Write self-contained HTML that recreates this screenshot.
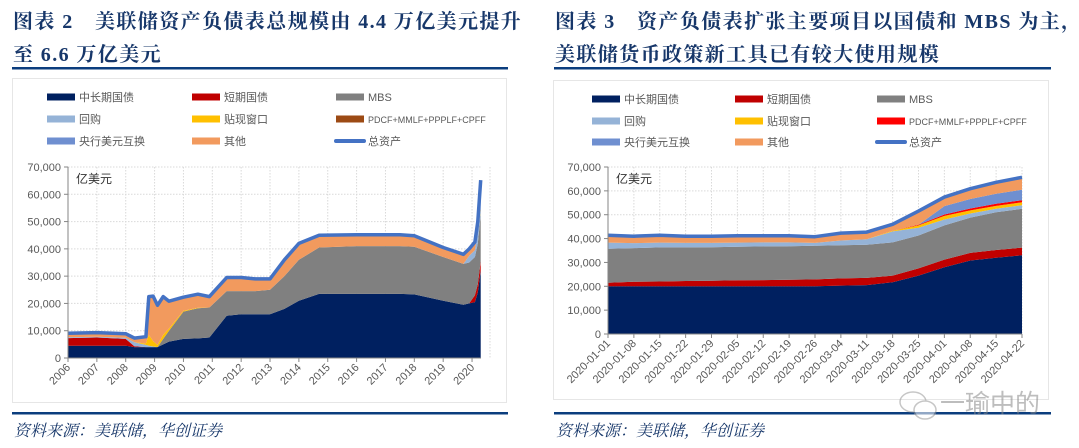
<!DOCTYPE html>
<html><head><meta charset="utf-8">
<style>
html,body{margin:0;padding:0;background:#fff;}
svg{display:block;}
.tt{font-family:"Liberation Serif","Noto Serif CJK SC",serif;font-weight:bold;font-size:20px;fill:#17376A;letter-spacing:1.4px;}
.src{font-family:"Liberation Serif","Noto Serif CJK SC",serif;font-style:italic;font-size:16px;fill:#17376A;}
.lg{font-family:"Liberation Sans","Noto Sans CJK SC",sans-serif;font-size:11px;fill:#595959;}
.lgs{font-family:"Liberation Sans","Noto Sans CJK SC",sans-serif;font-size:9px;fill:#595959;}
.tk{font-family:"Liberation Sans","Noto Sans CJK SC",sans-serif;font-size:11px;fill:#595959;}
.un{font-family:"Liberation Sans","Noto Sans CJK SC",sans-serif;font-size:12px;fill:#333;}
</style></head>
<body>
<svg id="root" width="1079" height="448" viewBox="0 0 1079 448" xmlns="http://www.w3.org/2000/svg">
<text class="tt" x="13" y="28">图表 2　美联储资产负债表总规模由 4.4 万亿美元提升</text>
<text class="tt" x="13" y="61">至 6.6 万亿美元</text>
<rect x="12" y="67" width="496" height="2.5" fill="#0B3D7E"/>
<text class="tt" x="555" y="28">图表 3　资产负债表扩张主要项目以国债和 MBS 为主，</text>
<text class="tt" x="555" y="61">美联储货币政策新工具已有较大使用规模</text>
<rect x="554" y="67" width="497" height="2.5" fill="#0B3D7E"/>
<rect x="12.5" y="78.5" width="494" height="324" fill="#fff" stroke="#E6E6E6"/>
<rect x="553.5" y="80.5" width="495" height="319" fill="#fff" stroke="#E6E6E6"/>
<rect x="12" y="412" width="496" height="2.5" fill="#0B3D7E"/>
<rect x="554" y="412" width="497" height="2.5" fill="#0B3D7E"/>
<text class="src" x="14" y="436">资料来源：美联储，华创证券</text>
<text class="src" x="556" y="436">资料来源：美联储，华创证券</text>
<g id="left"></g>
<g id="right"></g>
<g opacity="0.55">
<ellipse cx="913" cy="402" rx="13" ry="10" fill="none" stroke="#999" stroke-width="1.5"/>
<ellipse cx="925" cy="410" rx="11" ry="9" fill="#fff" stroke="#999" stroke-width="1.5"/>
<text x="940" y="412" font-family="Liberation Sans,Noto Sans CJK SC,sans-serif" font-size="25" fill="#888">一瑜中的</text>
</g>
</svg>
<script>
// ---------- LEFT CHART DATA ----------
const leftTimes = [2006,2007,2008,2008.3,2008.7,2008.8,2008.95,2009.1,2009.3,2009.5,2010,2010.5,2010.9,2011.5,2012,2012.5,2013,2013.5,2014,2014.7,2016,2017.5,2018,2019,2019.7,2019.9,2020.1,2020.2,2020.3];
const leftLongTsy = [4500,4500,4500,4000,4000,4000,4000,4000,5000,6000,7000,7200,7500,15500,16000,16000,16000,18000,21000,23500,23500,23500,23300,21000,19500,20000,20500,24000,32000];
const leftShortTsy = [2800,3000,2500,300,0,0,0,0,0,0,0,0,0,0,0,0,0,0,0,0,0,0,0,0,0,0,2500,3000,3500];
const leftMBS = [0,0,0,0,0,0,0,0,2000,4000,10000,11000,11000,9000,8500,8500,9000,12000,15000,17000,17500,17500,17500,16000,15000,15000,14000,15000,17000];
const leftRepo = [300,300,400,1500,800,500,200,0,0,0,0,0,0,0,0,0,0,0,0,0,0,0,0,0,0,2500,2500,3000,1500];
const leftDW = [0,0,0,0,500,4000,2000,800,1500,800,300,200,0,0,0,0,0,0,0,0,0,0,0,0,0,0,0,0,500];
const leftPDCF = [0,0,0,0,0,0,0,0,0,0,0,0,0,0,0,0,0,0,0,0,0,0,0,0,0,0,0,0,200];
const leftSwap = [0,0,0,0,0,0,0,0,0,0,0,0,0,0,0,0,0,0,0,0,0,0,0,0,0,0,0,1000,4000];
const leftOther = [1500,1500,1500,1500,2500,14000,16500,14500,14000,10000,5000,5000,4000,5000,5000,4500,4000,6000,6000,4500,4200,4200,4000,3500,3500,2500,3000,4000,6500];
const leftYearTicks = ["2006","2007","2008","2009","2010","2011","2012","2013","2014","2015","2016","2017","2018","2019","2020"];
// ---------- RIGHT CHART DATA ----------
const rightDates = ["2020-01-01","2020-01-08","2020-01-15","2020-01-22","2020-01-29","2020-02-05","2020-02-12","2020-02-19","2020-02-26","2020-03-04","2020-03-11","2020-03-18","2020-03-25","2020-04-01","2020-04-08","2020-04-15","2020-04-22"];
const rightLongTsy = [20000,20000,20000,20000,20000,20000,20000,20000,20000,20300,20500,21700,24500,28000,30800,32000,33000];
const rightShortTsy = [1500,1900,2000,2200,2300,2500,2600,2700,2900,3000,3000,2800,3000,3200,3200,3200,3200];
const rightMBS = [14200,14100,14300,14100,14100,14100,14100,14100,14100,13900,13900,13900,13800,14300,14800,15800,16300];
const rightRepo = [2600,2100,2000,1900,1800,1700,1700,1600,1200,2000,2300,4600,3200,2500,1700,1500,1500];
const rightDW = [0,0,0,0,0,0,0,0,0,0,0,300,1000,1500,1300,1200,1200];
const rightPDCF = [0,0,0,0,0,0,0,0,0,0,0,0,300,600,800,900,900];
const rightSwap = [0,0,0,0,0,0,0,0,0,0,0,0,0,3500,4000,4200,4400];
const rightOther = [3100,2900,3100,2800,2800,2900,2800,2800,2600,3100,3000,2700,5700,3800,4300,4800,5200];
const yTicks = [0,10000,20000,30000,40000,50000,60000,70000];

const NS="http://www.w3.org/2000/svg";
function mk(tag,attrs,parent){const e=document.createElementNS(NS,tag);for(const k in attrs)e.setAttribute(k,attrs[k]);parent.appendChild(e);return e;}
function fmt(v){return v===0?"0":v.toLocaleString("en-US");}

function drawChart(g, cfg){
  const {xs, xScale, yScale, series, colors, names, gridXs, xLabels, xLabelXs, x0, x1, yTop, yBot, legend} = cfg;
  yTicks.forEach(v=>{
    if(v===0)return;
    const l=mk("line",{x1:x0,x2:x1,y1:yScale(v),y2:yScale(v),stroke:"#D9D9D9","stroke-dasharray":"1.5,1.5"},g);
    
    
  });
  gridXs.forEach(x=>{
    const l=mk("line",{x1:x,x2:x,y1:yTop,y2:yBot,stroke:"#D9D9D9","stroke-dasharray":"1.5,1.5"},g);
    
    
  });
  const n=xs.length;let base=new Array(n).fill(0);
  series.forEach((s,i)=>{
    const top=s.map((v,j)=>base[j]+v);
    let pts=[];
    for(let j=0;j<n;j++)pts.push(xScale(xs[j]).toFixed(1)+","+yScale(top[j]).toFixed(1));
    for(let j=n-1;j>=0;j--)pts.push(xScale(xs[j]).toFixed(1)+","+yScale(base[j]).toFixed(1));
    const p=mk("polygon",{points:pts.join(" "),fill:colors[i]},g);
    
    
    base=top;
  });
  let lp=[];for(let j=0;j<n;j++)lp.push(xScale(xs[j]).toFixed(1)+","+yScale(base[j]).toFixed(1));
  const tl=mk("polyline",{points:lp.join(" "),fill:"none",stroke:"#4472C4","stroke-width":3.5,"stroke-linejoin":"round"},g);
  
  
  const ya=mk("line",{x1:x0,x2:x0,y1:yTop,y2:yBot,stroke:"#868686"},g);
  
  
  const xa=mk("line",{x1:x0,x2:x1,y1:yBot,y2:yBot,stroke:"#868686"},g);
  
  
  yTicks.forEach(v=>{
    const y=yScale(v);
    mk("line",{x1:x0-4,x2:x0,y1:y,y2:y,stroke:"#868686"},g);
    const t=mk("text",{x:x0-7,y:y+4,"text-anchor":"end",class:"tk"},g);
    t.textContent=fmt(v);
    
    
  });
  xLabels.forEach((lab,i)=>{
    const x=xLabelXs[i];
    mk("line",{x1:x,x2:x,y1:yBot,y2:yBot+4,stroke:"#868686"},g);
    const t=mk("text",{x:x+3,y:yBot+10,"text-anchor":"end",class:"tk",transform:`rotate(-45 ${x+3} ${yBot+10})`},g);
    t.textContent=lab;
    
    
  });
  const u=mk("text",{x:x0+8,y:yTop+16,class:"un"},g);
  u.textContent="亿美元";
  
  
  const labels=["中长期国债","短期国债","MBS","回购","贴现窗口","PDCF+MMLF+PPPLF+CPFF","央行美元互换","其他","总资产"];
  const lcolors=colors.concat(["#4472C4"]);
  labels.forEach((lab,i)=>{
    const c=i%3,r=Math.floor(i/3);
    const sx=legend.x[c],sy=legend.y[r];
    const sw=i===8?mk("line",{x1:sx,x2:sx+28,y1:sy,y2:sy,stroke:lcolors[i],"stroke-width":4,"stroke-linecap":"round"},g)
                  :mk("rect",{x:sx,y:sy-3.5,width:28,height:7,fill:lcolors[i]},g);
    
    
    const t=mk("text",{x:sx+32,y:sy+4,class:i===5?"lgs":"lg"},g);
    t.textContent=lab;
    
    
  });
}

const seriesNames=["long-treasury","short-treasury","mbs","repo","discount-window","pdcf","cb-swap","other"];
(function(){
  const x0=68,x1=481,yTop=167,yBot=358;
  const xScale=t=>68+(t-2006)*28.86;
  const yScale=v=>yBot-(v/70000)*(yBot-yTop);
  const yearXs=leftYearTicks.map(s=>xScale(+s));
  drawChart(document.getElementById("left"),{
    xs:leftTimes,xScale,yScale,x0,x1,yTop,yBot,
    series:[leftLongTsy,leftShortTsy,leftMBS,leftRepo,leftDW,leftPDCF,leftSwap,leftOther],
    colors:["#002060","#C00000","#808080","#95B3D7","#FFC000","#9C4A14","#6F8FD0","#F29A5E"],
    names:seriesNames,gridXs:yearXs.slice(1).concat([x1+9]),xLabels:leftYearTicks,xLabelXs:yearXs,
    legend:{x:[47,192,336],y:[97,119,141]}
  });
})();
(function(){
  const x0=608,x1=1022,yTop=167,yBot=334;
  const idx=rightDates.map((d,i)=>i);
  const xScale=i=>608+i*(1022-608)/16;
  const yScale=v=>yBot-(v/70000)*(yBot-yTop);
  const xs=idx.map(xScale);
  drawChart(document.getElementById("right"),{
    xs:idx,xScale,yScale,x0,x1,yTop,yBot,
    series:[rightLongTsy,rightShortTsy,rightMBS,rightRepo,rightDW,rightPDCF,rightSwap,rightOther],
    colors:["#002060","#C00000","#808080","#95B3D7","#FFC000","#FF0000","#6F8FD0","#F29A5E"],
    names:seriesNames,gridXs:xs.slice(1),xLabels:rightDates,xLabelXs:xs,
    legend:{x:[592,735,877],y:[99,121,142]}
  });
})();
</script>
</body></html>
